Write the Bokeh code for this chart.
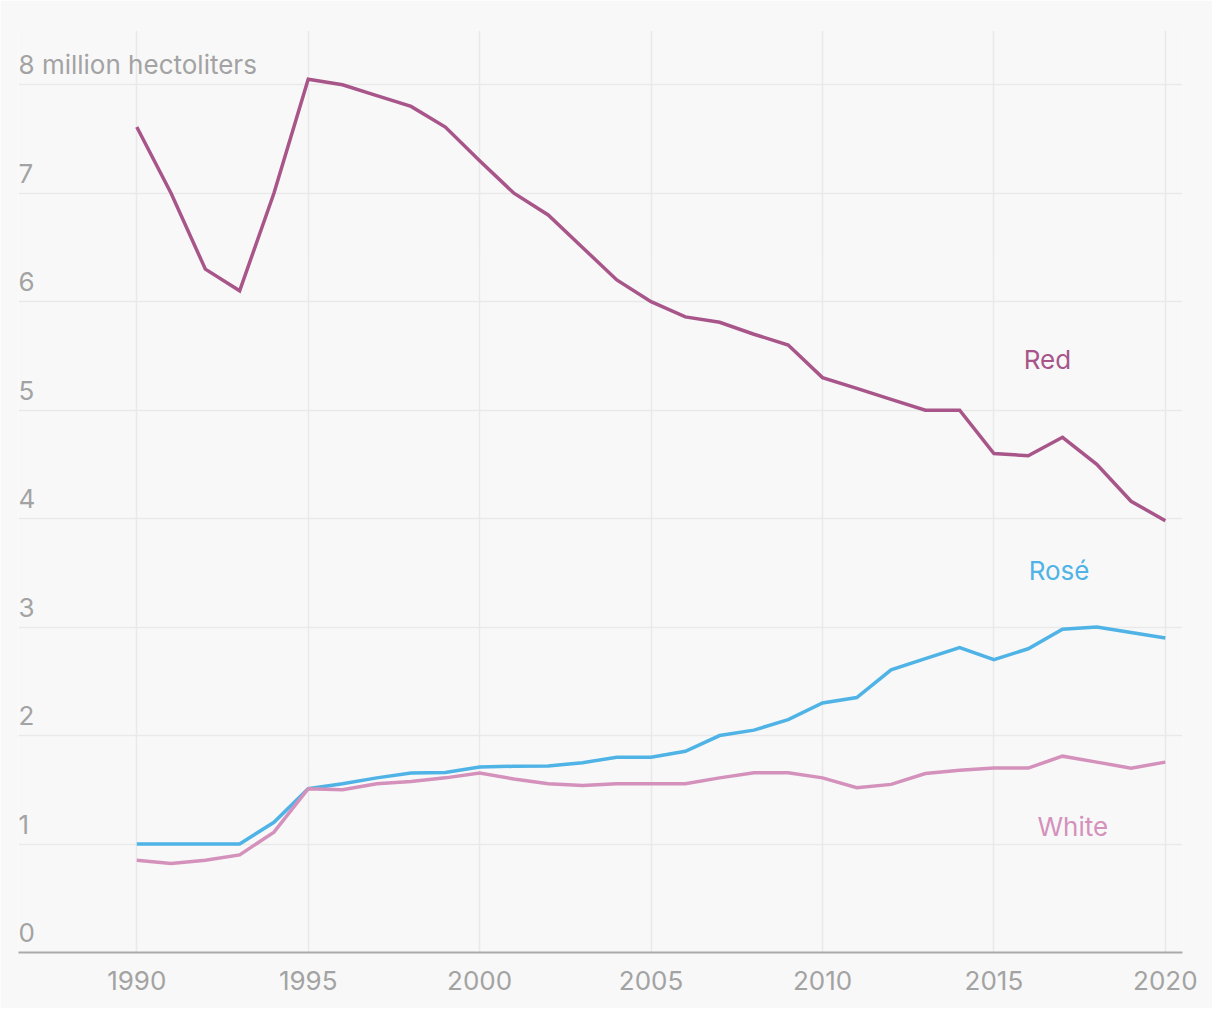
from bokeh.plotting import figure
from bokeh.models import FixedTicker, Range1d, ColumnDataSource
from bokeh.core.properties import value
from bokeh.embed import file_html
from bokeh.resources import INLINE

years = list(range(1990, 2021))
red = [7.61, 7.0, 6.30, 6.10, 7.0, 8.05, 8.0, 7.9, 7.8, 7.61, 7.3, 7.0, 6.8, 6.5, 6.2, 6.0,
       5.86, 5.81, 5.7, 5.6, 5.3, 5.2, 5.1, 5.0, 5.0, 4.60, 4.58, 4.75, 4.5, 4.16, 3.98]
rose = [1.0, 1.0, 1.0, 1.0, 1.2, 1.51, 1.555, 1.61, 1.655, 1.66, 1.71, 1.717, 1.72, 1.75, 1.80, 1.80,
        1.855, 2.0, 2.05, 2.147, 2.30, 2.35, 2.605, 2.71, 2.81, 2.70, 2.80, 2.98, 3.0, 2.95, 2.90]
white = [0.85, 0.82, 0.85, 0.90, 1.11, 1.51, 1.50, 1.555, 1.576, 1.61, 1.655, 1.60, 1.555, 1.54, 1.555, 1.555,
         1.555, 1.61, 1.656, 1.656, 1.61, 1.52, 1.55, 1.65, 1.68, 1.70, 1.70, 1.81, 1.755, 1.70, 1.755]

x_ticks = [1990, 1995, 2000, 2005, 2010, 2015, 2020]
y_ticks = [0, 1, 2, 3, 4, 5, 6, 7, 8]
y_tick_labels = ["0", "1", "2", "3", "4", "5", "6", "7", "8 million hectoliters"]

series_names = ["Red", "Rosé", "White"]
series_colors = ["#a85589", "#4fb3e6", "#d491bb"]
label_x = [2016.56, 2016.9, 2017.3]
label_y = [5.47, 3.52, 1.16]

FONT = "Inter"
BG = "#f8f8f8"
GRID = "#e9e9e9"
TICK_COLOR = "#a3a3a3"

p = figure(width=1212, height=1008, output_backend="svg", toolbar_location=None,
           x_range=Range1d(1986.55, 2020.5), y_range=Range1d(0, 8.5),
           min_border_left=18, min_border_right=30, min_border_top=30, min_border_bottom=56)
p.background_fill_color = BG
p.border_fill_color = BG
p.outline_line_color = None

p.yaxis.visible = False
p.ygrid.ticker = FixedTicker(ticks=y_ticks)
p.ygrid.grid_line_color = GRID
p.ygrid.grid_line_width = 1.5
p.xgrid.ticker = FixedTicker(ticks=x_ticks)
p.xgrid.grid_line_color = GRID
p.xgrid.grid_line_width = 1.5

ax = p.xaxis[0]
ax.ticker = FixedTicker(ticks=x_ticks)
ax.axis_line_color = "#aaaaaa"
ax.axis_line_width = 2
ax.major_tick_line_color = None
ax.minor_tick_line_color = None
ax.major_label_text_font = FONT
ax.major_label_text_font_size = "26px"
ax.major_label_text_color = TICK_COLOR
ax.major_label_standoff = 12

# y tick labels drawn inside the plot, above each gridline
ysrc = ColumnDataSource(dict(x=[1986.55] * len(y_ticks), y=y_ticks, t=y_tick_labels))
p.text(x="x", y="y", text="t", source=ysrc, text_font=value(FONT), text_font_size="26px",
       text_color=TICK_COLOR, text_baseline="alphabetic", text_align="left", y_offset=-20)

for vals, c in zip([red, rose, white], series_colors):
    p.line(years, vals, line_color=c, line_width=3.5, line_join="miter")

lsrc = ColumnDataSource(dict(x=label_x, y=label_y, t=series_names, c=series_colors))
p.text(x="x", y="y", text="t", source=lsrc, text_color="c", text_font=value(FONT),
       text_font_size="26px", text_align="center", text_baseline="middle")

open("out.html", "w").write(file_html(p, INLINE))
